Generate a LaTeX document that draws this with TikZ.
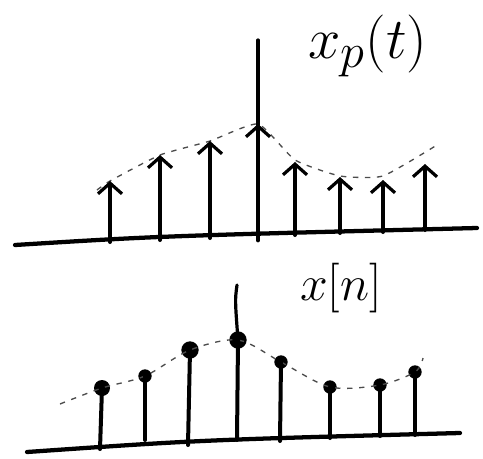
\documentclass[tikz,border=0pt]{standalone}
\usetikzlibrary{arrows.meta}

\begin{document}
\begin{tikzpicture}[
    x=0.75pt, y=-0.75pt,
    >={Straight Barb[length=8pt,width=18pt,line width=2.4pt]},
    axis/.style={line width=3.2pt, line cap=round},
    vaxis/.style={line width=2.4pt, line cap=round},
    stem/.style={line width=3pt, line cap=round},
    impulse/.style={stem, ->},
    envelope/.style={line width=1pt, black!70, dash pattern=on 4pt off 5pt},
    sample/.style={circle, fill, inner sep=0pt, minimum size=10pt},
    bigsample/.style={sample, minimum size=13pt},
    siglabel/.style={inner sep=0pt, font=\Huge}
]
\useasboundingbox (0,0) rectangle (483,458);

% Impulse train
\coordinate (axL) at (15,245);
\coordinate (axR) at (477,228);
\coordinate (vtop) at (258,40);

\coordinate (b1) at (110,242); \coordinate (t1) at (110,181);
\coordinate (b2) at (160,240); \coordinate (t2) at (160,155);
\coordinate (b3) at (210,238); \coordinate (t3) at (210,141);
\coordinate (b4) at (258,240); \coordinate (t4) at (258,124);
\coordinate (b5) at (295,235); \coordinate (t5) at (295,162);
\coordinate (b6) at (340,233); \coordinate (t6) at (340,177);
\coordinate (b7) at (383,232); \coordinate (t7) at (383,180);
\coordinate (b8) at (425,230); \coordinate (t8) at (425,164);

\node[siglabel, scale=1.75] (xp) at (368,46) {$x_p(t)$};

\draw[envelope] plot[smooth, tension=0.3] coordinates
    {(97,190) (t1) (t2) (t3) (t4) (295,160) (340,176) (383,176) (437,145)};

\draw[vaxis] (b4) -- (vtop);
\draw[axis] (axL) .. controls (160,236) .. (axR);

\draw[impulse] (b1) -- (t1);
\draw[impulse] (b2) -- (t2);
\draw[impulse] (b3) -- (t3);
\draw[impulse, line width=3.6pt] (b4) -- (t4);
\draw[impulse] (b5) -- (t5);
\draw[impulse] (b6) -- (t6);
\draw[impulse] (b7) -- (t7);
\draw[impulse] (b8) -- (t8);

% Samples
\coordinate (sxL) at (27,452);
\coordinate (sxR) at (460,433);
\coordinate (stop) at (237,285);

\coordinate (s1) at (100,449);
\coordinate (s2) at (145,440);
\coordinate (s3) at (188,445);
\coordinate (s4) at (237,440);
\coordinate (s5) at (280,441);
\coordinate (s6) at (330,438);
\coordinate (s7) at (380,436);
\coordinate (s8) at (415,435);

\node[sample, minimum size=12pt] (d1) at (102,388) {};
\node[sample] (d2) at (145,376) {};
\node[bigsample] (d3) at (190,350) {};
\node[bigsample] (d4) at (238,340) {};
\node[sample] (d5) at (281,362) {};
\node[sample] (d6) at (330,387) {};
\node[sample] (d7) at (380,385) {};
\node[sample] (d8) at (415,372) {};

\node[siglabel, scale=1.5] (xn) at (341,288) {$x[n]$};

\draw[envelope] plot[smooth, tension=0.5] coordinates
    {(60,404) (d1.center) (d2.center) (d3.center) (d4.center) (d5.center)
     (d6.center) (d7.center) (d8.center) (423,358)};

\draw[vaxis] (d4.center) .. controls (235,300) .. (stop);
\draw[axis] (sxL) .. controls (200,440) .. (sxR);

\draw[stem] (s1) -- (d1.center);
\draw[stem] (s2) -- (d2.center);
\draw[stem] (s3) -- (d3.center);
\draw[stem] (s4) -- (d4.center);
\draw[stem] (s5) -- (d5.center);
\draw[stem] (s6) -- (d6.center);
\draw[stem] (s7) -- (d7.center);
\draw[stem] (s8) -- (d8.center);

\end{tikzpicture}
\end{document}
